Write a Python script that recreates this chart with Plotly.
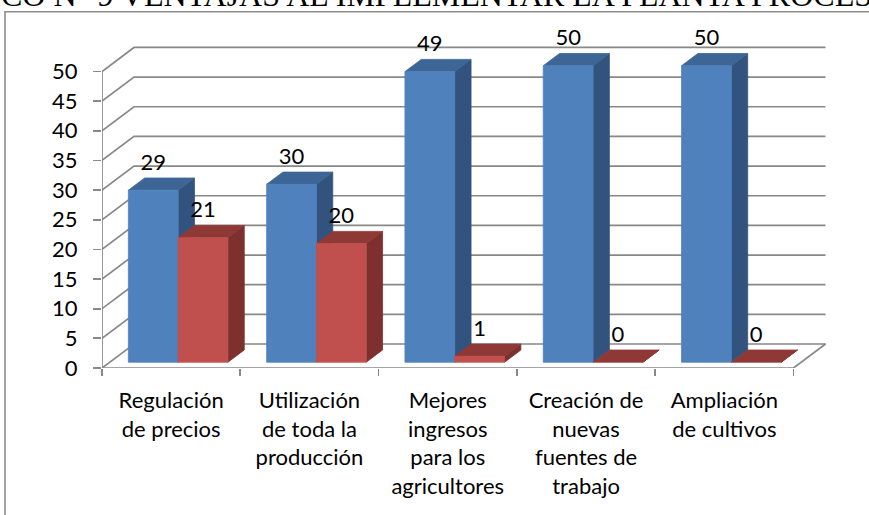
import plotly.graph_objects as go

# ---------------- data ----------------
categories = [
    "Regulación de precios",
    "Utilización de toda la producción",
    "Mejores ingresos para los agricultores",
    "Creación de nuevas fuentes de trabajo",
    "Ampliación de cultivos",
]
tick_labels = [
    "Regulación<br>de precios",
    "Utilización<br>de toda la<br>producción",
    "Mejores<br>ingresos<br>para los<br>agricultores",
    "Creación de<br>nuevas<br>fuentes de<br>trabajo",
    "Ampliación<br>de cultivos",
]
series_names = ["Sí", "No"]
values_blue = [29, 30, 49, 50, 50]
values_red = [21, 20, 1, 0, 0]
y_ticks = [0, 5, 10, 15, 20, 25, 30, 35, 40, 45, 50]
title_text = "GRÁFICO N° 9 VENTAJAS AL IMPLEMENTAR LA PLANTA PROCESADORA"

# ---------------- geometry / style ----------------
W, H = 869, 515
L_PX = 102.0          # pixel of x = 0
UNIT_X = 138.3        # pixels per category
ZERO_Y = 368.5        # pixel of y = 0
UNIT_Y = 5.934        # pixels per value unit
X_MAX = 5.3
Y_MAX = 58.0
plot_w = X_MAX * UNIT_X
plot_h = Y_MAX * UNIT_Y
m_r = W - L_PX - plot_w
m_t = ZERO_Y - plot_h
m_b = H - ZERO_Y

DDX = 32.0 / UNIT_X   # depth offset (data units)
DDY = 24.0 / UNIT_Y
F0, F1 = 0.24, 0.75   # bar front / back depth fractions
BAR_OFF = 0.135
BAR_W = 0.36
LABEL_OFF = 4.4

GRID = "#888888"
FONT = "Lato"
colors = [
    {"front": "#4F81BD", "top": "#3D6596", "side": "#32537E"},
    {"front": "#C0504D", "top": "#8F3937", "side": "#7D302E"},
]

n = len(categories)
fig = go.Figure()

# back wall / left wall gridlines, floor, axis line
gx, gy = [], []
for v in y_ticks:
    gx += [0, DDX, n + DDX, None]
    gy += [v, v + DDY, v + DDY, None]
gx += [0, n, n + DDX, None, 0, 0]
gy += [0, 0, DDY, None, 0, y_ticks[-1]]
fig.add_trace(go.Scatter(x=gx, y=gy, mode="lines",
                         line=dict(color=GRID, width=1.7),
                         hoverinfo="skip", showlegend=False))


def faces(i, s, v):
    L = i + BAR_OFF + s * BAR_W
    R = L + BAR_W
    fx0, fy0 = F0 * DDX, F0 * DDY
    fx1, fy1 = F1 * DDX, F1 * DDY
    front = ([L + fx0, R + fx0, R + fx0, L + fx0, L + fx0],
             [fy0, fy0, v + fy0, v + fy0, fy0])
    top = ([L + fx0, R + fx0, R + fx1, L + fx1, L + fx0],
           [v + fy0, v + fy0, v + fy1, v + fy1, v + fy0])
    side = ([R + fx0, R + fx1, R + fx1, R + fx0, R + fx0],
            [fy0, fy1, v + fy1, v + fy0, fy0])
    return front, top, side


lab_x, lab_y, lab_t = [], [], []
for s, vals in enumerate([values_blue, values_red]):
    for face_name in ["side", "top", "front"]:
        xs, ys = [], []
        for i, v in enumerate(vals):
            front, top, side = faces(i, s, v)
            f = {"front": front, "top": top, "side": side}[face_name]
            if face_name == "front" and v == 0:
                continue
            xs += f[0] + [None]
            ys += f[1] + [None]
        col = colors[s][face_name]
        fig.add_trace(go.Scatter(x=xs, y=ys, mode="lines", fill="toself",
                                 fillcolor=col, line=dict(color=col, width=0.8),
                                 name=series_names[s], hoverinfo="skip",
                                 showlegend=False))
    for i, v in enumerate(vals):
        L = i + BAR_OFF + s * BAR_W
        lab_x.append(L + F0 * DDX + BAR_W / 2)
        lab_y.append(v + F0 * DDY + LABEL_OFF)
        lab_t.append(str(v))

fig.add_trace(go.Scatter(x=lab_x, y=lab_y, text=lab_t, mode="text",
                         textposition="middle center",
                         textfont=dict(family=FONT, size=22, color="#000000"),
                         cliponaxis=False, hoverinfo="skip", showlegend=False))

fig.update_layout(
    width=W, height=H,
    margin=dict(l=L_PX, r=m_r, t=m_t, b=m_b, pad=0),
    paper_bgcolor="white", plot_bgcolor="white",
    showlegend=False,
    xaxis=dict(range=[0, X_MAX], tickmode="array",
               tickvals=[i + 0.5 for i in range(n)], ticktext=tick_labels,
               ticks="", showline=False, showgrid=False, zeroline=False,
               ticklabelstandoff=17,
               tickfont=dict(family=FONT, size=22, color="#000000"),
               minor=dict(tickmode="array", tickvals=list(range(n + 1)),
                          ticks="outside", ticklen=7, tickwidth=1.7,
                          tickcolor=GRID, showgrid=False),
               fixedrange=True),
    yaxis=dict(range=[0, Y_MAX], tickmode="array", tickvals=y_ticks,
               ticks="outside", ticklen=8, tickwidth=1.7, tickcolor=GRID,
               showline=False, showgrid=False, zeroline=False,
               ticklabelstandoff=11,
               tickfont=dict(family=FONT, size=22, color="#000000"),
               fixedrange=True),
    shapes=[dict(type="rect", xref="paper", yref="paper",
                 x0=(5 - L_PX) / plot_w, x1=2.0,
                 y0=-2.0, y1=(ZERO_Y - 12) / plot_h,
                 line=dict(color="#8C8C8C", width=1.6),
                 fillcolor="rgba(0,0,0,0)", layer="below")],
    annotations=[dict(text=title_text, xref="paper", yref="paper",
                      x=(-97 - L_PX) / plot_w, y=(ZERO_Y - 15.7) / plot_h,
                      xanchor="left", yanchor="bottom", showarrow=False,
                      font=dict(family="Liberation Serif", size=32,
                                color="#000000"))],
)

fig.write_html("out.html",
               config={"displayModeBar": False, "staticPlot": True},
               post_script="document.body.style.margin='0px';"
                           "document.body.style.overflow='hidden';")
